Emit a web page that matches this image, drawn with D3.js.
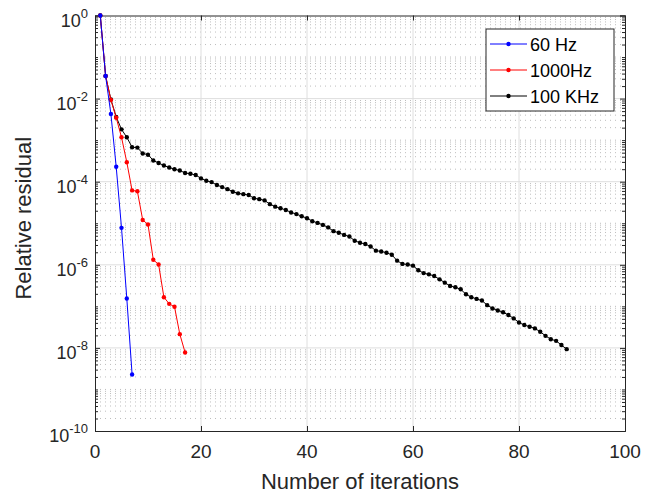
<!DOCTYPE html>
<html><head><meta charset="utf-8">
<script src="https://cdn.jsdelivr.net/npm/d3@7"></script>
<style>
body{margin:0;background:#fff;}
svg{display:block;font-family:"Liberation Sans",Arial,Helvetica,sans-serif;}
</style></head>
<body><svg id="c" width="657" height="495"></svg>
<script>
// ---- data ----
const iterations60 = [1,2,3,4,5,6,7];
const residual60 = [1, 3.5e-2, 4.27e-3, 2.29e-4, 7.76e-6, 1.55e-7, 2.29e-9];

const iterations1000 = [1,2,3,4,5,6,7,8,9,10,11,12,13,14,15,16,17];
const residual1000 = [1, 3.5e-2, 9.3e-3, 3.47e-3, 1.17e-3, 2.95e-4, 6.17e-5, 5.89e-5,
  1.2e-5, 9.33e-6, 1.32e-6, 1.02e-6, 1.66e-7, 1.15e-7, 9.77e-8, 2.14e-8, 7.76e-9];

const residual100k = [1, 3.5e-2, 9.55e-3, 3.63e-3, 1.82e-3, 1.17e-3, 6.76e-4, 6.61e-4, 4.79e-4, 4.47e-4,
  3.24e-4, 2.82e-4, 2.45e-4, 2.19e-4, 2.0e-4, 1.86e-4, 1.62e-4, 1.55e-4, 1.45e-4, 1.20e-4,
  1.05e-4, 9.77e-5, 8.32e-5, 7.41e-5, 6.61e-5, 5.75e-5, 5.25e-5, 5.01e-5, 4.79e-5, 3.98e-5,
  3.80e-5, 3.55e-5, 2.88e-5, 2.51e-5, 2.29e-5, 2.09e-5, 1.82e-5, 1.66e-5, 1.48e-5, 1.32e-5,
  1.12e-5, 1.02e-5, 9.12e-6, 7.94e-6, 6.46e-6, 5.89e-6, 5.25e-6, 4.79e-6, 3.80e-6, 3.39e-6,
  3.16e-6, 2.75e-6, 2.19e-6, 2.09e-6, 1.95e-6, 1.74e-6, 1.26e-6, 1.05e-6, 1.02e-6, 9.55e-7,
  7.41e-7, 6.31e-7, 5.89e-7, 5.37e-7, 4.47e-7, 3.72e-7, 3.09e-7, 2.88e-7, 2.57e-7, 1.95e-7,
  1.66e-7, 1.51e-7, 1.38e-7, 1.07e-7, 8.91e-8, 7.94e-8, 7.24e-8, 6.17e-8, 5.13e-8, 4.07e-8,
  3.55e-8, 3.24e-8, 2.95e-8, 2.45e-8, 1.95e-8, 1.62e-8, 1.48e-8, 1.17e-8, 9.33e-9];
const iterations100k = residual100k.map((d,i)=>i+1);

const seriesNames = ["60 Hz", "1000Hz", "100 KHz"];
const seriesColors = ["#0000ff", "#ff0000", "#000000"];

const xTicks = [0,20,40,60,80,100];
const yTickExponents = [0,-2,-4,-6,-8,-10];
const xLabel = "Number of iterations";
const yLabel = "Relative residual";

// ---- layout ----
const L=95, R=625, T=15.5, B=431;
const svg = d3.select("#c");
const x = d3.scaleLinear().domain([0,100]).range([L,R]);
const y = d3.scaleLog().domain([1e-10,1]).range([B,T]);

// minor (dotted) horizontal grid values: every m*10^k not a labeled decade
const minorY = [];
for (let k=-10;k<0;k++){ for (let m=1;m<10;m++){ const v=m*Math.pow(10,k); if(!(m===1 && yTickExponents.includes(k))) minorY.push(v);} }

const grid = svg.append("g");
grid.selectAll("line.minor").data(minorY).join("line")
  .attr("x1",L).attr("x2",R).attr("y1",d=>y(d)).attr("y2",d=>y(d))
  .attr("stroke","#bdbdbd").attr("stroke-width",1).attr("stroke-dasharray","1,4");
grid.selectAll("line.majy").data(yTickExponents.slice(1,-1)).join("line")
  .attr("x1",L).attr("x2",R).attr("y1",d=>y(Math.pow(10,d))).attr("y2",d=>y(Math.pow(10,d)))
  .attr("stroke","#dedede").attr("stroke-width",1);
grid.selectAll("line.majx").data(xTicks.slice(1,-1)).join("line")
  .attr("y1",T).attr("y2",B).attr("x1",d=>x(d)).attr("x2",d=>x(d))
  .attr("stroke","#dedede").attr("stroke-width",1);

// axes (ticks inward)
const axc = "#262626";
const gB = svg.append("g").attr("transform",`translate(0,${B})`)
  .call(d3.axisBottom(x).tickValues(xTicks).tickSize(-5).tickFormat(""));
const gT = svg.append("g").attr("transform",`translate(0,${T})`)
  .call(d3.axisTop(x).tickValues(xTicks).tickSize(-5).tickFormat(""));
const gL = svg.append("g").attr("transform",`translate(${L},0)`)
  .call(d3.axisLeft(y).tickValues(yTickExponents.map(e=>Math.pow(10,e))).tickSize(-5).tickFormat(""));
const gR = svg.append("g").attr("transform",`translate(${R},0)`)
  .call(d3.axisRight(y).tickValues(yTickExponents.map(e=>Math.pow(10,e))).tickSize(-5).tickFormat(""));
const gLm = svg.append("g").attr("transform",`translate(${L},0)`)
  .call(d3.axisLeft(y).tickValues(minorY).tickSize(-3).tickFormat(""));
const gRm = svg.append("g").attr("transform",`translate(${R},0)`)
  .call(d3.axisRight(y).tickValues(minorY).tickSize(-3).tickFormat(""));
[gB,gT,gL,gR,gLm,gRm].forEach(g=>{
  g.selectAll("path").attr("stroke",axc).attr("stroke-width",1);
  g.selectAll("line").attr("stroke",axc).attr("stroke-width",1);
});
gLm.select("path").remove(); gRm.select("path").remove();

// tick labels
svg.append("g").selectAll("text").data(xTicks).join("text")
  .attr("x",d=>x(d)).attr("y",B+27).attr("text-anchor","middle")
  .attr("font-size",19).attr("fill",axc).text(d=>d);
const yl = svg.append("g").selectAll("text").data(yTickExponents).join("text")
  .attr("x",L-7).attr("y",d=>y(Math.pow(10,d))+11).attr("text-anchor","end")
  .attr("font-size",18).attr("fill",axc);
yl.append("tspan").text("10");
yl.append("tspan").attr("dy",-9).attr("font-size",13).text(d=>d===0?"0":"-"+(-d));

// axis labels
svg.append("text").attr("x",(L+R)/2).attr("y",489).attr("text-anchor","middle")
  .attr("font-size",22).attr("fill",axc).text(xLabel);
svg.append("text").attr("transform",`translate(31,${(T+B)/2 - 5}) rotate(-90)`)
  .attr("text-anchor","middle").attr("font-size",22).attr("fill",axc).text(yLabel);

// series
const series = [
  {name:seriesNames[0], color:seriesColors[0], xs:iterations60, ys:residual60},
  {name:seriesNames[1], color:seriesColors[1], xs:iterations1000, ys:residual1000},
  {name:seriesNames[2], color:seriesColors[2], xs:iterations100k, ys:residual100k}
];
const line = d3.line().x(d=>x(d[0])).y(d=>y(d[1]));
series.slice().reverse().forEach(s=>{
  const pts = s.xs.map((v,i)=>[v,s.ys[i]]);
  const g = svg.append("g");
  g.append("path").datum(pts).attr("d",line).attr("fill","none")
    .attr("stroke",s.color).attr("stroke-width",1);
  g.selectAll("circle").data(pts).join("circle")
    .attr("cx",d=>x(d[0])).attr("cy",d=>y(d[1])).attr("r",2.2).attr("fill",s.color);
});

// legend
const lg = svg.append("g");
lg.append("rect").attr("x",486).attr("y",29).attr("width",128).attr("height",82)
  .attr("fill","#fff").attr("stroke",axc).attr("stroke-width",1);
series.forEach((s,i)=>{
  const yy = 44 + i*26;
  lg.append("line").attr("x1",490).attr("x2",527).attr("y1",yy).attr("y2",yy)
    .attr("stroke",s.color).attr("stroke-width",1);
  lg.append("circle").attr("cx",508.5).attr("cy",yy).attr("r",2.2).attr("fill",s.color);
  lg.append("text").attr("x",530).attr("y",yy+6.5).attr("font-size",18).attr("fill","#000").text(s.name);
});
</script></body></html>
